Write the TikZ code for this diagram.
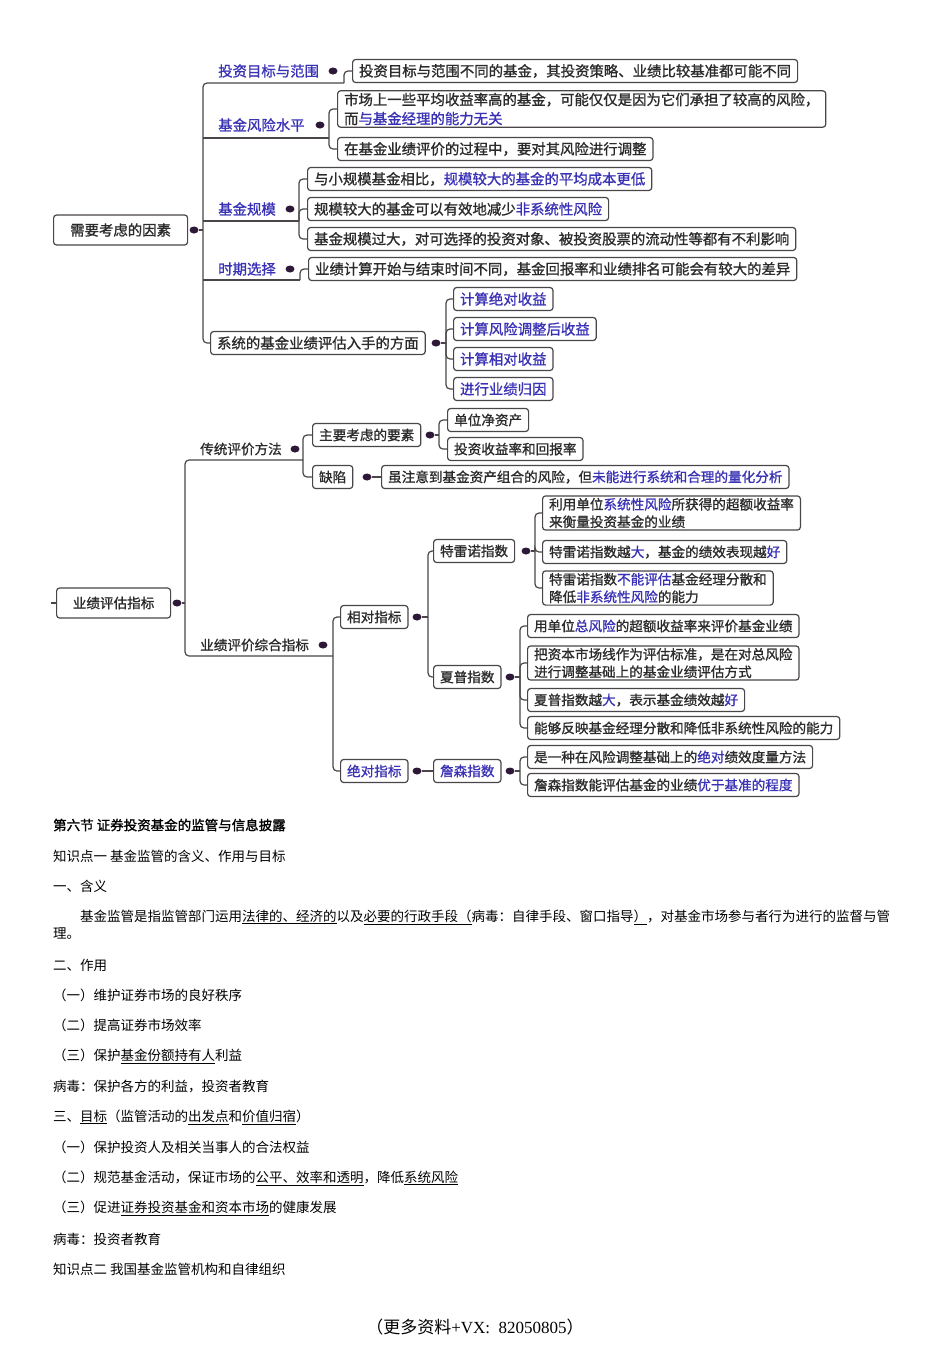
\documentclass[tikz,border=0pt]{standalone}
\usepackage{fontspec}
\setmainfont{Noto Sans CJK SC}
\newfontfamily\mmfont{Noto Sans CJK SC}[FakeBold=1.1]
\newfontfamily\headfont{Noto Sans CJK SC}[FakeBold=1.4]
\newfontfamily\footfont{Liberation Serif}
\usepackage{tikz}
\usetikzlibrary{positioning,shapes.geometric}
\definecolor{linegray}{HTML}{4A4548}
\definecolor{txtgray}{HTML}{2B2B2B}
\definecolor{bluetxt}{HTML}{3A32B5}
\definecolor{dotpurple}{HTML}{2E1838}
\newcommand\blu[1]{\textcolor{bluetxt}{#1}}

\begin{document}
\begin{tikzpicture}[x=1pt,y=-1pt,
  every node/.style={font=\mmfont\fontsize{14.4}{19}\selectfont,text=txtgray},
  box/.style={draw=linegray,line width=1.2pt,rounded corners=3pt,fill=white,anchor=west,inner xsep=6.5pt,inner ysep=2pt,minimum height=23pt,align=left},
  lbl/.style={anchor=west,inner sep=0pt,text=bluetxt},
  dot/.style={ellipse,fill=dotpurple,inner sep=0pt,minimum width=9pt,minimum height=7pt},
  conn/.style={draw=linegray,line width=1.2pt,rounded corners=4pt},
  para/.style={anchor=west,inner sep=0pt,font=\fontsize{13.5}{17}\selectfont,text=black}]
\useasboundingbox (0,0) rectangle (950,1345);

% factors to consider
\node[box,minimum width=134pt,minimum height=30pt,align=center] (f0) at (53,230) {需要考虑的因素};
\node[dot] (f0d) at (194,230) {};
\node[lbl] (f1) at (218,71) {投资目标与范围};
\node[dot] (f1d) at (333,71) {};
\node[lbl] (f2) at (218,125) {基金风险水平};
\node[dot] (f2d) at (320,125) {};
\node[lbl] (f3) at (218,209) {基金规模};
\node[dot] (f3d) at (290,209) {};
\node[lbl] (f4) at (218,269) {时期选择};
\node[dot] (f4d) at (290,269) {};
\node[box] (f5) at (210,343) {系统的基金业绩评估入手的方面};
\node[dot] (f5d) at (436,343) {};

\node[box] (f1a) at (352,71) {投资目标与范围不同的基金，其投资策略、业绩比较基准都可能不同};
\node[box] (f2a) at (337,109) {市场上一些平均收益率高的基金，可能仅仅是因为它们承担了较高的风险，\\而\blu{与基金经理的能力无关}};
\node[box] (f2b) at (337,149) {在基金业绩评价的过程中，要对其风险进行调整};
\node[box] (f3a) at (307,179) {与小规模基金相比，\blu{规模较大的基金的平均成本更低}};
\node[box] (f3b) at (307,209) {规模较大的基金可以有效地减少\blu{非系统性风险}};
\node[box] (f3c) at (307,239) {基金规模过大，对可选择的投资对象、被投资股票的流动性等都有不利影响};
\node[box] (f4a) at (308,269) {业绩计算开始与结束时间不同，基金回报率和业绩排名可能会有较大的差异};
\foreach \txt/\y [count=\i] in {计算绝对收益/299,计算风险调整后收益/329,计算相对收益/359,进行业绩归因/389}
  \node[box,text=bluetxt] (f5\i) at (453,\y) {\txt};

\coordinate (t1) at (203,230);
\coordinate (f1k) at (344,83);
\coordinate (f2k) at (329,138);
\coordinate (f3k) at (299,221);
\coordinate (f4k) at (300,280);
\coordinate (f5k) at (446,343);

\draw[conn] (f0d) -- (t1);
\draw[conn] (f1k) -| (t1) |- (f5.west);
\foreach \k in {f2k,f3k,f4k} \draw[conn] (\k) -- (\k -| t1);
\draw[conn] (f1k) |- (f1a.west);
\foreach \c in {f2a,f2b} \draw[conn] (f2k) |- (\c.west);
\foreach \c in {f3a,f3b,f3c} \draw[conn] (f3k) |- (\c.west);
\draw[conn] (f4k) |- (f4a.west);
\draw[conn] (f5d) -- (f5k);
\foreach \i in {1,...,4} \draw[conn] (f5k) |- (f5\i.west);

% performance indicators
\begin{scope}[every node/.append style={font=\mmfont\fontsize{13.6}{17.5}\selectfont}]
\node[box,minimum width=114pt,minimum height=30pt,align=center] (g0) at (56,603) {业绩评估指标};
\node[dot] (g0d) at (177,603) {};
\node[lbl,text=txtgray] (g1) at (200,449) {传统评价方法};
\node[dot] (g1d) at (295,449) {};
\node[lbl,text=txtgray] (g2) at (200,645) {业绩评价综合指标};
\node[dot] (g2d) at (323,645) {};

\node[box] (g1a) at (312,435) {主要考虑的要素};
\node[dot] (g1ad) at (430,435) {};
\node[box] (g1a1) at (447,420) {单位净资产};
\node[box] (g1a2) at (447,449) {投资收益率和回报率};
\node[box] (g1c) at (312,477) {缺陷};
\node[dot] (g1cd) at (367,477) {};
\node[box] (g1c1) at (381,477) {虽注意到基金资产组合的风险，但\blu{未能进行系统和合理的量化分析}};

\node[box] (g2a) at (340,617) {相对指标};
\node[dot] (g2ad) at (417,617) {};
\node[box,text=bluetxt] (g2c) at (340,771) {绝对指标};
\node[dot] (g2cd) at (417,771) {};
\node[box] (tr) at (433,551) {特雷诺指数};
\node[dot] (trd) at (526,551) {};
\node[box] (sp) at (433,677) {夏普指数};
\node[dot] (spd) at (510,677) {};
\node[box,text=bluetxt] (js) at (433,771) {詹森指数};
\node[dot] (jsd) at (510,771) {};

\node[box] (tr1) at (542,513) {利用单位\blu{系统性风险}所获得的超额收益率\\来衡量投资基金的业绩};
\node[box] (tr2) at (542,552) {特雷诺指数越\blu{大}，基金的绩效表现越\blu{好}};
\node[box] (tr3) at (542,588) {特雷诺指数\blu{不能评估}基金经理分散和\\降低\blu{非系统性风险}的能力};
\node[box] (sp1) at (527,626) {用单位\blu{总风险}的超额收益率来评价基金业绩};
\node[box] (sp2) at (527,663) {把资本市场线作为评估标准，是在对总风险\\进行调整基础上的基金业绩评估方式};
\node[box] (sp3) at (527,700) {夏普指数越\blu{大}，表示基金绩效越\blu{好}};
\node[box] (sp4) at (527,728) {能够反映基金经理分散和降低非系统性风险的能力};
\node[box] (js1) at (527,757) {是一种在风险调整基础上的\blu{绝对}绩效度量方法};
\node[box] (js2) at (527,785) {詹森指数能评估基金的业绩\blu{优于基准的程度}};
\end{scope}

\coordinate (t2) at (185,603);
\coordinate (g1k) at (303,460);
\coordinate (g2k) at (333,656);
\coordinate (g1ak) at (439,435);
\coordinate (g2ak) at (428,617);
\coordinate (trk) at (535,551);
\coordinate (spk) at (520,677);
\coordinate (jsk) at (520,771);

\draw[conn] (g0.west) -- ++(-5,0);
\draw[conn] (g0d) -- (t2);
\draw[conn] (g1k) -| (t2) |- (g2k);
\foreach \c in {g1a,g1c} \draw[conn] (g1k) |- (\c.west);
\draw[conn] (g1ad) -- (g1ak);
\foreach \c in {g1a1,g1a2} \draw[conn] (g1ak) |- (\c.west);
\draw[conn] (g1cd) -- (g1c1);
\foreach \c in {g2a,g2c} \draw[conn] (g2k) |- (\c.west);
\draw[conn] (g2ad) -- (g2ak);
\foreach \c in {tr,sp} \draw[conn] (g2ak) |- (\c.west);
\draw[conn] (g2cd) -- (js);
\draw[conn] (trd) -- (trk);
\foreach \c in {tr1,tr2,tr3} \draw[conn] (trk) |- (\c.west);
\draw[conn] (spd) -- (spk);
\foreach \c in {sp1,sp2,sp3,sp4} \draw[conn] (spk) |- (\c.west);
\draw[conn] (jsd) -- (jsk);
\foreach \c in {js1,js2} \draw[conn] (jsk) |- (\c.west);

% notes below
\node[para,font=\headfont\fontsize{13.5}{17}\selectfont] (h0) at (53,825) {第六节 证券投资基金的监管与信息披露};
\node[para] (p1) at (53,856) {知识点一 基金监管的含义、作用与目标};
\node[para] (p2) at (53,886) {一、含义};
\node[para] (p3) at (80,917) {基金监管是指监管部门运用\underline{法律的、经济的}以及\underline{必要的行政手段（}病毒：自律手段、窗口指导\underline{）}，对基金市场参与者行为进行的监督与管};
\node[para] (p4) at (53,934) {理。};
\node[para] (p5) at (53,965) {二、作用};
\node[para] (p6) at (53,995) {（一）维护证券市场的良好秩序};
\node[para] (p7) at (53,1025) {（二）提高证券市场效率};
\node[para] (p8) at (53,1056) {（三）保护\underline{基金份额持有人}利益};
\node[para] (p9) at (53,1086) {病毒：保护各方的利益，投资者教育};
\node[para] (p10) at (53,1117) {三、\underline{目标}（监管活动的\underline{出发点}和\underline{价值归宿}）};
\node[para] (p11) at (53,1147) {（一）保护投资人及相关当事人的合法权益};
\node[para] (p12) at (53,1178) {（二）规范基金活动，保证市场的\underline{公平、效率和透明}，降低\underline{系统风险}};
\node[para] (p13) at (53,1208) {（三）促进\underline{证券投资基金和资本市场}的健康发展};
\node[para] (p14) at (53,1239) {病毒：投资者教育};
\node[para] (p15) at (53,1269) {知识点二 我国基金监管机构和自律组织};
\node[para,anchor=center,font=\fontsize{17}{20}\selectfont] (ft) at (475,1327) {（更多资料{\footfont +VX:\ \ 82050805}）};
\end{tikzpicture}
\end{document}
